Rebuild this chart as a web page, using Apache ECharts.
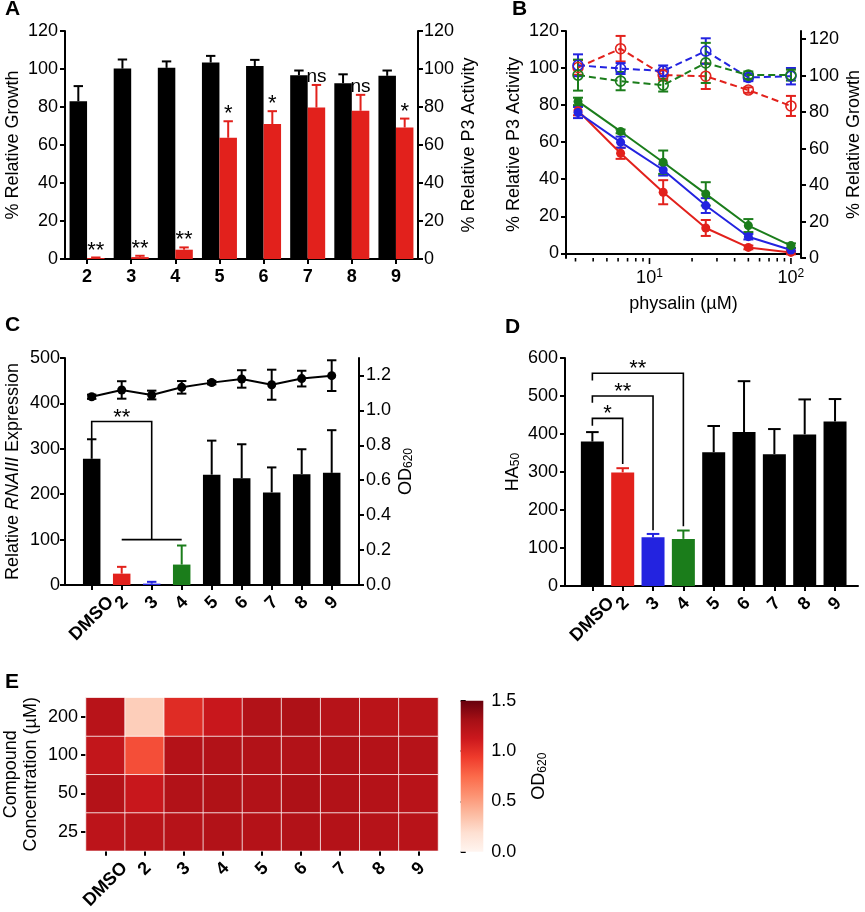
<!DOCTYPE html>
<html>
<head>
<meta charset="utf-8">
<title>Figure</title>
<script src="https://cdn.jsdelivr.net/npm/echarts@6/dist/echarts.min.js"></script>
<style>
  html, body { margin: 0; padding: 0; background: #fff; }
  #main { width: 865px; height: 912px; }
</style>
</head>
<body>
<div id="main"></div>
<script>
// ---------- data ----------
// A
var catsA = ['2', '3', '4', '5', '6', '7', '8', '9'];
var growthA = [83, 100.2, 100.6, 103.4, 101.6, 96.7, 92.5, 96.4];
var growthErrA = [8, 4.8, 3.4, 3.5, 3.2, 2.5, 4.7, 2.8];
var p3A = [0.5, 1.0, 4.9, 63.8, 71, 79.7, 78, 69.2];
var p3ErrA = [0.3, 0.7, 1.2, 8.7, 6.8, 11.9, 8.4, 4.7];
var sigA = ['**', '**', '**', '*', '*', 'ns', 'ns', '*'];

// B
var concB = [3.125, 6.25, 12.5, 25, 50, 100];
var p3Red = [77, 54, 33, 13.7, 3.2, 0.5];
var p3RedErr = [2.5, 3, 6.5, 4.3, 1, 1];
var p3Blue = [76, 60, 45, 25.8, 9, 1.8];
var p3BlueErr = [3, 3, 3, 4, 1.5, 1];
var p3Green = [82, 65.8, 49.2, 32.1, 15, 4.2];
var p3GreenErr = [2, 1, 6.3, 6.3, 3.5, 1.2];
var grRed = [104.5, 114.8, 100.3, 99.7, 92.1, 83.4];
var grRedErr = [4, 7, 3, 7, 1.5, 5.5];
var grBlue = [105.7, 103.9, 102.6, 113.5, 99, 99.7];
var grBlueErr = [6, 3, 3, 7, 2, 4.5];
var grGreen = [100.3, 97, 94.8, 107, 100.3, 100.3];
var grGreenErr = [8.5, 5, 3.5, 11, 2, 3];
var ticksB = [0, 20, 40, 60, 80, 100, 120];
var ticksLogB = [3, 4, 5, 6, 7, 8, 9, 10, 20, 30, 40, 50, 60, 70, 80, 90, 100];

// C and D
var catsCD = ['DMSO', '2', '3', '4', '5', '6', '7', '8', '9'];
var rnaC = [278, 25, 3, 45, 243, 235, 204, 244, 247];
var rnaErrC = [43, 15, 4, 42, 75, 75, 55, 55, 94];
var odC = [1.078, 1.117, 1.088, 1.132, 1.159, 1.18, 1.147, 1.182, 1.199];
var odErrC = [0.012, 0.05, 0.025, 0.036, 0.01, 0.05, 0.086, 0.045, 0.088];
var ticksOD = [0, 0.2, 0.4, 0.6, 0.8, 1.0, 1.2];
var bracketsC = [[0, 2, 360, 321, 100], [1, 3, 100, 100, 100]]; // x1, x2, top, leg1 end, leg2 end
var starsC = ['**', ''];

var haD = [380, 299, 128, 124, 352, 405, 347, 399, 433];
var haErrD = [25, 11, 9, 22, 69, 134, 66, 92, 59];
var bracketsD = [[0, 1, 441, 422, 321], [0, 2, 500, 482, 147], [0, 3, 560, 541, 157]];
var starsD = ['*', '**', '**'];

// E  (OD620 per compound, one row per concentration)
var concE = ['25', '50', '100', '200'];
var od200 = [1.22, 0.28, 1.02, 1.14, 1.25, 1.27, 1.23, 1.21, 1.21];
var od100 = [1.17, 0.86, 1.24, 1.25, 1.25, 1.25, 1.25, 1.24, 1.23];
var od50 = [1.24, 1.14, 1.25, 1.26, 1.25, 1.27, 1.25, 1.24, 1.22];
var od25 = [1.20, 1.21, 1.23, 1.25, 1.24, 1.25, 1.24, 1.23, 1.22];
var rowsE = [od25, od50, od100, od200];
var scaleE = [0, 1.5];

// ---------- styles ----------
var RED = '#e2211c', BLUE = '#2323e0', GREEN = '#1b7d1b', BLACK = '#000';
var colorsCD = [BLACK, RED, BLUE, GREEN, BLACK, BLACK, BLACK, BLACK, BLACK];
var REDS = ['#fff5f0', '#fee0d2', '#fcbba1', '#fc9272', '#fb6a4a', '#ef3b2c', '#cb181d', '#a50f15', '#67000d'];
var FONT = '"Liberation Sans", Arial, sans-serif';
var FS = 18;

var axLine = { show: true, lineStyle: { color: BLACK, width: 2 } };
var axTick = { show: true, length: 5, lineStyle: { color: BLACK, width: 2 } };
var catTick = { show: true, interval: 0, alignWithLabel: true, length: 5, lineStyle: { color: BLACK, width: 2 } };
var noSplit = { show: false };
function lbl(extra) {
  var o = { color: BLACK, fontSize: FS, fontFamily: FONT };
  for (var k in extra) o[k] = extra[k];
  return o;
}
var nameStyle = {
  color: BLACK, fontSize: FS, fontFamily: FONT,
  rich: {
    i: { fontStyle: 'italic', fontSize: FS, color: BLACK, fontFamily: FONT },
    s: { fontSize: 12, color: BLACK, fontFamily: FONT, verticalAlign: 'bottom', padding: [6, 0, 0, 0] }
  }
};

function pair(xs, ys, es) {
  return ys.map(function (v, i) { return es ? [xs[i], v, es[i]] : [xs[i], v]; });
}
var idxCD = catsCD.map(function (c, i) { return i; });
var idxA = catsA.map(function (c, i) { return i; });

function errorItem(half, both, dx, colorOf) {
  return function (params, api) {
    var x = api.value(0), y = api.value(1), e = api.value(2);
    var top = api.coord([x, y + e]);
    var bot = api.coord([x, both ? y - e : y]);
    var cx = top[0] + dx;
    var c = colorOf(params.dataIndex);
    var kids = [
      { type: 'line', shape: { x1: cx, y1: bot[1], x2: cx, y2: top[1] }, style: { stroke: c, lineWidth: 2 } },
      { type: 'line', shape: { x1: cx - half, y1: top[1], x2: cx + half, y2: top[1] }, style: { stroke: c, lineWidth: 2 } }
    ];
    if (both) {
      kids.push({ type: 'line', shape: { x1: cx - half, y1: bot[1], x2: cx + half, y2: bot[1] }, style: { stroke: c, lineWidth: 2 } });
    }
    return { type: 'group', children: kids };
  };
}
function constColor(c) { return function () { return c; }; }

function bracketItem(labels) {
  return function (params, api) {
    var x1 = api.value(0), x2 = api.value(1), yt = api.value(2);
    var p1 = api.coord([x1, api.value(3)]), p2 = api.coord([x1, yt]);
    var p3 = api.coord([x2, yt]), p4 = api.coord([x2, api.value(4)]);
    var kids = [{
      type: 'polyline', shape: { points: [p1, p2, p3, p4] },
      style: { stroke: BLACK, lineWidth: 1.6, fill: null }
    }];
    var t = labels[params.dataIndex];
    if (t) {
      kids.push({
        type: 'text', x: (p2[0] + p3[0]) / 2, y: p2[1] + 7,
        style: { text: t, fill: BLACK, fontSize: 22, fontFamily: FONT, align: 'center', verticalAlign: 'bottom' }
      });
    }
    return { type: 'group', children: kids };
  };
}

// ---------- series ----------
var series = [];

// A
series.push({ type: 'bar', xAxisIndex: 0, yAxisIndex: 0, data: growthA, barWidth: 17.5, barGap: '0%', itemStyle: { color: BLACK } });
series.push({ type: 'bar', xAxisIndex: 0, yAxisIndex: 1, data: p3A, barWidth: 17.5, barGap: '0%', itemStyle: { color: RED } });
series.push({ type: 'custom', xAxisIndex: 0, yAxisIndex: 0, data: pair(idxA, growthA, growthErrA), renderItem: errorItem(4.7, false, -8.75, constColor(BLACK)) });
series.push({ type: 'custom', xAxisIndex: 0, yAxisIndex: 1, data: pair(idxA, p3A, p3ErrA), renderItem: errorItem(4.7, false, 8.75, constColor(RED)) });
series.push({
  type: 'custom', xAxisIndex: 0, yAxisIndex: 1,
  data: p3A.map(function (v, i) { return [i, v + p3ErrA[i]]; }),
  renderItem: function (params, api) {
    var p = api.coord([api.value(0), api.value(1)]);
    var t = sigA[params.dataIndex];
    var isStar = t.indexOf('*') >= 0;
    return {
      type: 'text', x: p[0] + 8.75, y: p[1] + (isStar ? 4 : 1),
      style: { text: t, fill: BLACK, fontSize: isStar ? 22 : 19, fontFamily: FONT, align: 'center', verticalAlign: 'bottom' }
    };
  }
});

// B
var bLines = [
  [p3Red, p3RedErr, RED, 2, false], [p3Blue, p3BlueErr, BLUE, 2, false], [p3Green, p3GreenErr, GREEN, 2, false],
  [grRed, grRedErr, RED, 3, true], [grBlue, grBlueErr, BLUE, 3, true], [grGreen, grGreenErr, GREEN, 3, true]
];
bLines.forEach(function (s) {
  series.push({ type: 'custom', xAxisIndex: 1, yAxisIndex: s[3], z: 2, data: pair(concB, s[0], s[1]), renderItem: errorItem(5, true, 0, constColor(s[2])) });
});
bLines.forEach(function (s) {
  series.push({
    type: 'line', xAxisIndex: 1, yAxisIndex: s[3], z: 3, data: pair(concB, s[0]),
    symbol: 'circle', symbolSize: s[4] ? 10 : 9,
    itemStyle: s[4] ? { color: 'rgba(255,255,255,0)', borderColor: s[2], borderWidth: 1.6 } : { color: s[2] },
    lineStyle: { color: s[2], width: 2, type: s[4] ? [7, 4] : 'solid' }
  });
});
series.push({
  type: 'custom', xAxisIndex: 1, yAxisIndex: 2, data: ticksLogB.map(function (v) { return [v, 0]; }),
  renderItem: function (params, api) {
    var v = api.value(0);
    var p = api.coord([v, 0]);
    var yb = params.coordSys.y + params.coordSys.height;
    var len = (v === 10 || v === 100) ? 6 : 3.5;
    return { type: 'line', shape: { x1: p[0], y1: yb, x2: p[0], y2: yb + len }, style: { stroke: BLACK, lineWidth: 1.6 } };
  }
});

// C
series.push({
  type: 'bar', xAxisIndex: 3, yAxisIndex: 6, barWidth: 17.5,
  data: rnaC.map(function (v, i) { return { value: v, itemStyle: { color: colorsCD[i] } }; })
});
series.push({ type: 'custom', xAxisIndex: 3, yAxisIndex: 6, data: pair(idxCD, rnaC, rnaErrC), renderItem: errorItem(4.7, false, 0, function (i) { return colorsCD[i]; }) });
series.push({ type: 'custom', xAxisIndex: 3, yAxisIndex: 7, data: pair(idxCD, odC, odErrC), renderItem: errorItem(4.7, true, 0, constColor(BLACK)) });
series.push({
  type: 'line', xAxisIndex: 3, yAxisIndex: 7, data: odC, symbol: 'circle', symbolSize: 9,
  itemStyle: { color: BLACK }, lineStyle: { color: BLACK, width: 2 }
});
series.push({ type: 'custom', xAxisIndex: 3, yAxisIndex: 6, data: bracketsC, renderItem: bracketItem(starsC) });

// D
series.push({
  type: 'bar', xAxisIndex: 5, yAxisIndex: 9, barWidth: 23,
  data: haD.map(function (v, i) { return { value: v, itemStyle: { color: colorsCD[i] } }; })
});
series.push({ type: 'custom', xAxisIndex: 5, yAxisIndex: 9, data: pair(idxCD, haD, haErrD), renderItem: errorItem(6.3, false, 0, function (i) { return colorsCD[i]; }) });
series.push({ type: 'custom', xAxisIndex: 5, yAxisIndex: 9, data: bracketsD, renderItem: bracketItem(starsD) });

// E
var heatData = [];
rowsE.forEach(function (row, r) {
  row.forEach(function (v, c) { heatData.push([c, r, v]); });
});
var heatIndex = series.length;
series.push({
  type: 'heatmap', xAxisIndex: 6, yAxisIndex: 10, data: heatData,
  itemStyle: { borderColor: 'rgba(255,255,255,0.75)', borderWidth: 1 },
  emphasis: { disabled: true }
});
// colour bar drawn on its own little axis
series.push({
  type: 'custom', xAxisIndex: 7, yAxisIndex: 11, data: [[0, scaleE[0], 1, scaleE[1]]],
  renderItem: function (params, api) {
    var a = api.coord([api.value(0), api.value(1)]);
    var b = api.coord([api.value(2), api.value(3)]);
    var stops = REDS.map(function (c, i) { return { offset: i / (REDS.length - 1), color: c }; });
    return {
      type: 'rect',
      shape: { x: a[0], y: b[1], width: b[0] - a[0], height: a[1] - b[1] },
      style: { fill: new echarts.graphic.LinearGradient(0, 1, 0, 0, stops) }
    };
  }
});

// ---------- axes ----------
// rotated tick labels, centred under the tick like the original
var rotLbl = lbl({
  fontWeight: 'bold', rotate: 45, margin: 18, interval: 0, align: 'center', verticalAlign: 'middle',
  formatter: function (v) { return v.length > 1 ? '{w|' + v + '}' : v; },
  rich: { w: { fontSize: FS, fontWeight: 'bold', color: BLACK, fontFamily: FONT, padding: [22, 22, 0, 0] } }
});
var xAxes = [
  { type: 'category', gridIndex: 0, data: catsA, axisLine: axLine, axisTick: catTick,
    axisLabel: lbl({ fontWeight: 'bold', margin: 9, interval: 0 }) },
  { type: 'log', gridIndex: 1, min: 2.57, max: 117.8, axisLine: axLine, axisTick: { show: false }, splitLine: noSplit, minorTick: { show: false }, minorSplitLine: { show: false },
    axisLabel: lbl({
      margin: 10,
      formatter: function (v) {
        if (Math.abs(v - 10) < 1e-6) return '10{p|1}';
        if (Math.abs(v - 100) < 1e-6) return '10{p|2}';
        return '';
      },
      rich: { p: { fontSize: 12, color: BLACK, fontFamily: FONT, verticalAlign: 'top', padding: [0, 0, 9, 0] } }
    }),
    name: 'physalin (µM)', nameLocation: 'middle', nameGap: 37, nameTextStyle: nameStyle },
  { type: 'value', gridIndex: 2, min: 0, max: 1, axisLine: axLine, axisTick: { show: false }, axisLabel: { show: false }, splitLine: noSplit },
  { type: 'category', gridIndex: 3, data: catsCD, axisLine: { show: false }, axisTick: catTick, axisLabel: rotLbl },
  { type: 'value', gridIndex: 4, min: 0, max: 1, axisLine: axLine, axisTick: { show: false }, axisLabel: { show: false }, splitLine: noSplit },
  { type: 'category', gridIndex: 5, data: catsCD, axisLine: { show: false }, axisTick: catTick, axisLabel: rotLbl },
  { type: 'category', gridIndex: 6, data: catsCD, axisLine: { show: false }, axisTick: catTick, axisLabel: rotLbl, splitArea: { show: false } },
  { type: 'value', gridIndex: 7, min: 0, max: 1, show: false }
];

function yName(text, gap) {
  return { name: text, nameLocation: 'middle', nameRotate: 90, nameGap: gap, nameTextStyle: nameStyle };
}
function merge(a, b) { for (var k in b) a[k] = b[k]; return a; }

var yAxes = [
  merge({ type: 'value', gridIndex: 0, min: 0, max: 120, interval: 20, axisLine: axLine, axisTick: axTick, splitLine: noSplit,
    axisLabel: lbl({ margin: 7 }) }, yName('% Relative Growth', 43)),
  merge({ type: 'value', gridIndex: 0, position: 'right', min: 0, max: 120, interval: 20, axisLine: axLine, axisTick: axTick, splitLine: noSplit,
    axisLabel: lbl({ margin: 6 }) }, yName('% Relative P3 Activity', 42)),
  merge({ type: 'value', gridIndex: 1, min: -2.5, max: 120, axisLine: axLine, splitLine: noSplit,
    axisTick: merge({ customValues: ticksB }, axTick),
    axisLabel: lbl({ margin: 7, customValues: ticksB }) }, yName('% Relative P3 Activity', 43)),
  merge({ type: 'value', gridIndex: 1, position: 'right', min: 0, max: 124.5, axisLine: axLine, splitLine: noSplit,
    axisTick: merge({ customValues: ticksB }, axTick),
    axisLabel: lbl({ margin: 8, customValues: ticksB }) }, yName('% Relative Growth', 44)),
  merge({ type: 'value', gridIndex: 2, min: 0, max: 500, interval: 100, axisLine: axLine, axisTick: axTick, splitLine: noSplit,
    axisLabel: lbl({ margin: 5 }) }, yName('Relative {i|RNAIII} Expression', 43)),
  merge({ type: 'value', gridIndex: 2, position: 'right', min: 0, max: 1.3, axisLine: axLine, splitLine: noSplit,
    axisTick: merge({ customValues: ticksOD }, axTick),
    axisLabel: lbl({ margin: 7, customValues: ticksOD, formatter: function (v) { return v.toFixed(1); } }) }, yName('OD{s|620}', 38)),
  { type: 'value', gridIndex: 3, min: 0, max: 500, show: false, splitLine: noSplit },
  { type: 'value', gridIndex: 3, min: 0, max: 1.3, show: false, splitLine: noSplit },
  merge({ type: 'value', gridIndex: 4, min: 0, max: 600, interval: 100, axisLine: axLine, axisTick: axTick, splitLine: noSplit,
    axisLabel: lbl({ margin: 7 }) }, yName('HA{s|50}', 43)),
  { type: 'value', gridIndex: 5, min: 0, max: 600, show: false, splitLine: noSplit },
  { type: 'category', gridIndex: 6, data: concE, axisLine: { show: false }, axisTick: catTick,
    axisLabel: lbl({ margin: 8, interval: 0 }), splitArea: { show: false },
    name: 'Compound\nConcentration (µM)', nameLocation: 'middle', nameRotate: 90, nameGap: 45,
    nameTextStyle: { color: BLACK, fontSize: FS, fontFamily: FONT, lineHeight: 20 } },
  merge({ type: 'value', gridIndex: 7, position: 'right', min: scaleE[0], max: scaleE[1], interval: 0.5, axisLine: { show: false }, splitLine: noSplit,
    axisTick: axTick,
    axisLabel: lbl({ margin: 8, formatter: function (v) { return v.toFixed(1); } }) }, yName('OD{s|620}', 47))
];

var letter = function (t, left, top) {
  return { text: t, left: left, top: top, padding: 0, textStyle: { fontSize: 21, fontWeight: 'bold', color: BLACK, fontFamily: FONT } };
};

var option = {
  animation: false,
  backgroundColor: '#fff',
  textStyle: { fontFamily: FONT },
  title: [letter('A', 5, -1), letter('B', 512, -1), letter('C', 5, 315), letter('D', 505, 317), letter('E', 5, 672)],
  grid: [
    { left: 65, top: 31, width: 353, height: 228 },
    { left: 566, top: 31, width: 235, height: 227 },
    { left: 65, top: 358, width: 294, height: 227 },
    { left: 76.7, top: 358, width: 270, height: 227 },
    { left: 565, top: 358, width: 293, height: 228 },
    { left: 577.2, top: 358, width: 273, height: 228 },
    { left: 86, top: 697.7, width: 352, height: 154.6 },
    { left: 460.7, top: 700.7, width: 22.6, height: 151 }
  ],
  xAxis: xAxes,
  yAxis: yAxes,
  visualMap: {
    type: 'continuous', show: false, min: scaleE[0], max: scaleE[1], seriesIndex: heatIndex,
    inRange: { color: REDS }
  },
  series: series
};

var chart = echarts.init(document.getElementById('main'));
chart.setOption(option);
</script>
</body>
</html>
